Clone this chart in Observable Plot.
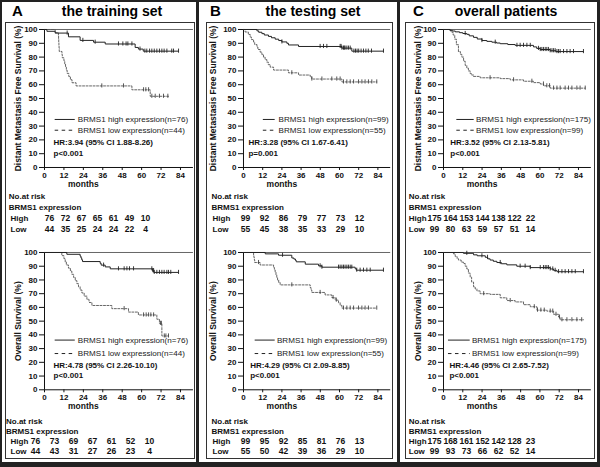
<!DOCTYPE html>
<html><head><meta charset="utf-8">
<script src="https://cdn.jsdelivr.net/npm/d3@7"></script>
<script src="https://cdn.jsdelivr.net/npm/@observablehq/plot@0.6"></script>
<style>
body{margin:0;background:#fff;}
#fig{position:relative;width:600px;height:467px;overflow:hidden;background:#fff;font-family:"Liberation Sans",Arial,Helvetica,sans-serif;}
.ttl{position:absolute;font-weight:bold;font-size:14px;line-height:14px;white-space:nowrap;color:#000;}
.box{position:absolute;border:1px solid #333;box-sizing:border-box;}
.bar{position:absolute;background:#222;}
</style></head><body><div id="fig"></div><script>
// ---------------- data ----------------
const riskMonths = [0, 12, 24, 36, 48, 60, 72];
const xTicks = [0, 12, 24, 36, 48, 60, 72, 84];
const yTicks = [0, 10, 20, 30, 40, 50, 60, 70, 80, 90, 100];
const panelLetters = ["A", "B", "C"];
const panelTitles = ["the training set", "the testing set", "overall patients"];
const yLabels = ["Distant Metastasis Free Survival (%)", "Overall Survival (%)"];
const nHigh = [76, 99, 175];
const nLow = [44, 55, 99];
const hrDmfs = ["HR:3.94 (95% CI 1.88-8.26)", "HR:3.28 (95% CI 1.67-6.41)", "HR:3.52 (95% CI 2.13-5.81)"];
const pDmfs = ["p<0.001", "p=0.001", "p<0.001"];
const hrOs = ["HR:4.78 (95% CI 2.26-10.10)", "HR:4.29 (95% CI 2.09-8.85)", "HR:4.46 (95% CI 2.65-7.52)"];
const pOs = ["p<0.001", "p<0.001", "p<0.001"];

const riskDmfsHigh = [[76, 72, 67, 65, 61, 49, 10], [99, 92, 86, 79, 77, 73, 12], [175, 164, 153, 144, 138, 122, 22]];
const riskDmfsLow = [[44, 35, 25, 24, 24, 22, 4], [55, 45, 38, 35, 33, 29, 10], [99, 80, 63, 59, 57, 51, 14]];
const riskOsHigh = [[76, 73, 69, 67, 61, 52, 10], [99, 95, 92, 85, 81, 76, 13], [175, 168, 161, 152, 142, 128, 23]];
const riskOsLow = [[44, 43, 31, 27, 26, 23, 4], [55, 50, 42, 39, 36, 29, 10], [99, 93, 73, 66, 62, 52, 14]];

// Kaplan-Meier steps [month, survival %] and censor times (months)
const trainDmfsHigh = [[0,100],[1.5,98.7],[6.6,97.4],[14.8,94.7],[22,92.1],[30.3,90.8],[37.5,89.5],[56,87.0],[58,85.8],[61,84.3],[82.8,84.3]];
const trainDmfsHighCens = [14,23.7,31.3,45.7,48.4,50.4,51.5,54,59,62,63.2,64.9,66.3,67.8,69.4,71,72.5,73.9,75.6,78.6,79.7,82.8];
const trainDmfsLow = [[0,100],[6.6,97.7],[8.6,95.5],[8.7,93.2],[8.8,90.9],[8.9,88.6],[9,86.4],[9.1,84.1],[10.8,81.8],[11,79.5],[12,77.3],[12.5,75],[13,72.7],[13.5,70.5],[14,68.2],[15,65.9],[16,63.6],[17,61.4],[19.5,59.1],[54,56.3],[65.3,51.6],[76.6,51.6]];
const trainDmfsLowCens = [35.4,48.8,61.2,62.6,64.3,66.3,68.4,71,73.5,76.2];
const trainOsHigh = [[0,100],[13.8,98.7],[22,97.4],[22.5,96.1],[23,94.7],[23.5,93.4],[34.4,92.1],[35,90.8],[37.5,89.5],[40.6,88.1],[66.8,86.8],[67.5,85.5],[82.8,85.5]];
const trainOsHighCens = [36.5,45.7,49.2,50.9,52.5,55,66.3,66.9,67.4,67.8,69.4,71,72.5,73.9,75.6,76.6,78,82.8];
const trainOsLow = [[0,100],[10.7,97.7],[12,95.5],[12.8,93.2],[13.5,90.9],[14.8,88.6],[16,86.4],[16.9,84.1],[18,81.8],[19,79.5],[20,77.3],[21,75],[22,72.7],[23.1,70.5],[24.5,68.2],[26.2,65.9],[27.5,63.6],[29.3,61.4],[41.6,59.1],[51.9,56.6],[58,54.5],[69.4,51.4],[71,48.4],[72.5,39.2],[76.6,39.2]];
const trainOsLowCens = [49.2,61.2,62.8,64.3,65.7,67.4,71.6,72.2,74,75,76.6];

const testDmfsHigh = [[0,100],[8.4,99],[9.5,98],[11.5,97],[13,96],[15.6,95],[17.5,94],[19.8,93],[22,92],[24,91],[27.1,90],[28.1,88.8],[34.4,87.7],[61.5,86.5],[67.7,84.3],[87.5,84.3]];
const testDmfsHighCens = [24,47.9,50,52.1,60.4,61,61.5,62.5,63,63.5,64.6,65.6,66.7,69,70,71,72,73.5,75,76.5,78,80,87.5];
const testDmfsLow = [[0,100],[1,98.2],[3,96.4],[4.2,94.5],[5,92.7],[6.3,90.9],[7,89.1],[8.4,87.3],[9,85.5],[10.4,83.6],[11.5,81.8],[12.5,80],[13.5,78.2],[14.6,76.4],[15.5,74.5],[16.7,72.7],[18.8,70.6],[28.1,68.6],[34.4,67],[41.7,65.8],[42.7,64.1],[61.5,62],[83.3,62]];
const testDmfsLowCens = [30.2,42.7,49,55.2,58.3,60.4,62.5,64.6,66.7,68.8,71.9,74,76,78.1,80.2,83.3];
const testOsHigh = [[0,100],[13.6,99],[21.9,98],[30.2,96],[31.5,95.2],[32.5,94.2],[33,93.2],[38.6,91.5],[46.9,90.3],[49,89.3],[69.8,88.2],[70.5,87.1],[87.5,87.1]];
const testOsHighCens = [24.4,47.9,49,59.4,60.4,61.5,62.5,63.5,64.6,65.6,66.7,67.7,70.8,72.9,75,77.1,79.2,87.5];
const testOsLow = [[0,100],[6.3,98.2],[6.5,96.4],[6.8,94.5],[7,92.7],[10.4,90.9],[18.8,89.1],[19.3,87.3],[19.8,85.5],[20.3,83.6],[20.8,81.8],[21.3,80],[22,78.2],[22.9,76.4],[41.7,74.5],[42.2,72.7],[42.7,70.9],[51,69.1],[55.2,67.2],[57.3,65.3],[59.4,63.4],[60.4,61.5],[61.5,59.5],[83.3,59.5]];
const testOsLowCens = [9.4,30.2,47.9,56,58,62.5,64.6,66.7,68.8,71.9,74,76,78.1,83.3];

const allDmfsHigh = [[0,100],[4.1,99.4],[5.5,98.9],[7.3,98.3],[10,97.7],[12,97.1],[14.5,96.5],[16,95.4],[18.7,94.3],[21,93.1],[23.9,92],[27,91.4],[30.1,90.8],[33,90.2],[35.3,89.7],[40,89.1],[44.6,88.5],[56,87.4],[58,86.3],[60.2,85.5],[66.4,84.6],[70,84],[87.1,84]];
const allDmfsHighCens = [13.5,23.9,32.2,45.7,47.7,49.8,51.9,54,59.1,60.2,61.2,62.2,63.3,64.3,65.3,66.4,67.5,68.5,69.5,70.6,71.6,72.6,74.7,76.8,78.8,80.9,87.1];
const allDmfsLow = [[0,100],[4.1,99],[5.2,98],[6,96],[7,93],[8,89],[9.3,84],[10.5,82],[11.4,80],[12.5,77],[13.5,74],[14.5,72],[15.5,70],[16.6,68],[17.5,67],[18.7,66],[22.8,65],[35.3,64.4],[41.5,63.5],[49.8,62.5],[56,61.5],[60.2,60.5],[62.3,59.2],[66.4,57.5],[88.2,57.5]];
const allDmfsLowCens = [29,43.6,55,62.2,64.3,66,68.5,70.6,72.6,75.7,77.8,79.9,83,85,88.2];
const allOsHigh = [[0,100],[12.4,99.4],[18.7,98.3],[21,97.6],[26,96.5],[27.5,95.4],[29,94.5],[31,93.6],[33.2,92.7],[36,91.8],[39.4,91],[45.6,90],[53.9,89],[66.4,88],[68.5,87],[70.6,86],[87.1,86]];
const allOsHighCens = [14.5,23.9,27.4,35.3,47.7,50.8,54,60.2,62.2,63.3,64.3,65.3,66.4,68,69.5,71.6,73.7,75.7,77.8,79.9,82,87.1];
const allOsLow = [[0,100],[6.2,99],[7.3,97],[8.5,95.5],[9.3,94.5],[11,93],[12.4,92],[13.5,90],[14.5,88],[15.5,85],[16.6,82],[17.5,78.5],[18.7,75],[19.7,73.5],[20.8,72],[22.8,70],[29,69.5],[35.3,67],[39.4,65],[44.6,64],[49.8,62],[54,60.5],[58.1,58],[64.3,57.3],[68.5,55],[71.6,53],[72.6,51],[87.1,51]];
const allOsLowCens = [25,41.5,56.5,58.5,60.6,62.7,66.4,68,70,72.2,73.7,76.8,79.9,83,86];

// ---------------- layout (pixels / positions) ----------------
const FONT = '"Liberation Sans", Arial, Helvetica, sans-serif';
const layout = [
  {x0: 44.3, ppm: 1.619, ylabDx: -26.3, boxL: 5, boxR: 195, letterX: 12, titleCX: 112,
   leg: [{lx1: 6.6, lx2: 19, tx: 20.6, hx: 5.6}, {lx1: 6.6, lx2: 19, tx: 20.6, hx: 5.6}],
   risk: [{lab: 8.3, grp: 10, x1: 48.3, x2: 146.3}, {lab: 5.5, grp: 10, x1: 33.8, x2: 150.3}]},
  {x0: 243.3, ppm: 1.6, ylabDx: -30.6, boxL: 206, boxR: 393, letterX: 210, titleCX: 313,
   leg: [{lx1: 12.4, lx2: 19.8, tx: 21.9, hx: 3.1}, {lx1: 7.3, lx2: 19.8, tx: 20.9, hx: 4.2}],
   risk: [{lab: 211, grp: 212, x1: 244.2, x2: 360}, {lab: 211, grp: 212, x1: 244, x2: 360}]},
  {x0: 443.3, ppm: 1.607, ylabDx: -25.6, boxL: 405, boxR: 595, letterX: 413, titleCX: 506,
   leg: [{lx1: 8.3, lx2: 19.1, tx: 20.3, hx: 4.2}, {lx1: 3.1, lx2: 16.6, tx: 17.7, hx: 3.7}],
   risk: [{lab: 408.3, grp: 408.3, x1: 433.7, x2: 530}, {lab: 408.3, grp: 408.3, x1: 433.3, x2: 530}]}
];
const chartTop = [29.3, 251.7];     // pixel of 100%
const chartSpan = [138, 137.3];     // pixels from 100% to 0%
const legY = [{hi: 34.8, lo: 27, hr: 17.8, p: 10.1}, {hi: 36.2, lo: 26.4, hr: 17.5, p: 10.2}];
const riskRowY = [[196, 229.7], [420, 452.7]];
const LEGFS = 8.1;

const fig = document.getElementById("fig");
function place(el, left, top) {
  el.style.position = "absolute";
  el.style.left = left + "px";
  el.style.top = top + "px";
  fig.appendChild(el);
}
function survAt(steps, t) {
  let s = steps[0][1];
  for (const [tt, ss] of steps) { if (tt <= t) s = ss; else break; }
  return s;
}
const rowsOf = steps => steps.map(([t, s]) => ({t, s}));
const censOf = (steps, times) => times.map(t => ({t, s: survAt(steps, t)}));

function chart(col, row, hiSteps, hiCens, loSteps, loCens, hr, p) {
  const L = layout[col];
  const mL = 40, mT = 5, mB = 25, mR = 2;
  const W = mL + 92 * L.ppm + mR;
  const H = mT + chartSpan[row] + mB;
  const g = L.leg[row], ly = legY[row];
  const legTexts = [
    {x: g.tx, y: ly.hi, text: `BRMS1 high expression(n=${nHigh[col]})`},
    {x: g.tx, y: ly.lo, text: `BRMS1 low expression(n=${nLow[col]})`}
  ];
  const stats = [{x: g.hx, y: ly.hr, text: hr}, {x: g.hx, y: ly.p, text: p}];
  const tick = 1.5;
  const svg = Plot.plot({
    width: W, height: H, marginLeft: mL, marginRight: mR, marginTop: mT, marginBottom: mB,
    style: {fontFamily: FONT, fontSize: "8px", fontWeight: "bold", color: "#111", background: "transparent", overflow: "visible"},
    x: {domain: [0, 92], ticks: xTicks, tickSize: 3, tickPadding: 2, label: null, tickFormat: d => String(d)},
    y: {domain: [0, 100], ticks: yTicks, tickSize: 5, tickPadding: 2, label: null, tickFormat: d => String(d)},
    marks: [
      Plot.ruleY([100], {stroke: "#666", strokeWidth: 1}),
      Plot.ruleY([0], {stroke: "#111", strokeWidth: 1}),
      Plot.ruleX([0], {y1: 0, y2: 100, stroke: "#111", strokeWidth: 1}),
      Plot.line(rowsOf(loSteps), {x: "t", y: "s", curve: "step-after", stroke: "#555", strokeWidth: 0.9, strokeDasharray: "2,1.5"}),
      Plot.ruleX(censOf(loSteps, loCens), {x: "t", y1: d => d.s - tick, y2: d => d.s + tick, stroke: "#444", strokeWidth: 0.9}),
      Plot.line(rowsOf(hiSteps), {x: "t", y: "s", curve: "step-after", stroke: "#222", strokeWidth: 1}),
      Plot.ruleX(censOf(hiSteps, hiCens), {x: "t", y1: d => d.s - tick, y2: d => d.s + tick, stroke: "#222", strokeWidth: 0.9}),
      Plot.ruleY([{x1: g.lx1, x2: g.lx2, y: ly.hi}], {x1: "x1", x2: "x2", y: "y", stroke: "#222", strokeWidth: 1}),
      Plot.ruleY([{x1: g.lx1, x2: g.lx2, y: ly.lo}], {x1: "x1", x2: "x2", y: "y", stroke: "#222", strokeWidth: 1, strokeDasharray: "3.5,3.5"}),
      Plot.text(legTexts, {x: "x", y: "y", text: "text", textAnchor: "start", fontWeight: "normal", fontSize: LEGFS, fill: "#222"}),
      Plot.text(stats, {x: "x", y: "y", text: "text", textAnchor: "start", fontWeight: "bold", fontSize: 8, fill: "#111"}),
      Plot.text([{x: 24, label: "months"}], {x: "x", text: "label", frameAnchor: "bottom", dy: 19.4, fontSize: 8.5, fontWeight: "bold", fill: "#111"}),
      Plot.text([yLabels[row]], {frameAnchor: "left", textAnchor: "middle", lineAnchor: "middle", rotate: -90, dx: L.ylabDx, fontSize: 8.5, fontWeight: "bold", fill: "#111"})
    ]
  });
  place(svg, L.x0 - mL, chartTop[row] - mT);
}

function riskTable(col, row, hi, lo) {
  const L = layout[col];
  const R = L.risk[row];
  const left = L.boxL + 1, width = L.boxR - L.boxL - 2;
  const top = riskRowY[row][0] - 7, height = 46;
  const rows = ["No.at risk", "BRMS1 expression", "High", "Low"];
  const nums = riskMonths.flatMap((m, i) => [{m, row: "High", n: hi[i]}, {m, row: "Low", n: lo[i]}]);
  const svg = Plot.plot({
    width, height, margin: 0,
    style: {fontFamily: FONT, fontSize: "8px", fontWeight: "bold", color: "#111", background: "transparent", overflow: "visible"},
    x: {type: "point", domain: riskMonths, range: [R.x1 - left, R.x2 - left], padding: 0, axis: null},
    y: {type: "point", domain: rows, range: [riskRowY[row][0] - top, riskRowY[row][1] - top], padding: 0, axis: null},
    marks: [
      Plot.text(rows.slice(0, 2), {y: d => d, frameAnchor: "left", dx: R.lab - left, textAnchor: "start", fontSize: 8, fontWeight: "bold", fill: "#111"}),
      Plot.text(rows.slice(2), {y: d => d, frameAnchor: "left", dx: R.grp - left, textAnchor: "start", fontSize: 8, fontWeight: "bold", fill: "#111"}),
      Plot.text(nums, {x: "m", y: "row", text: "n", fontSize: 8.5, fontWeight: "bold", fill: "#111"})
    ]
  });
  place(svg, left, top);
}

// frame and panel boxes
function div(cls, l, t, w, h) {
  const d = document.createElement("div");
  d.className = cls;
  d.style.left = l + "px"; d.style.top = t + "px"; d.style.width = w + "px"; d.style.height = h + "px";
  fig.appendChild(d);
  return d;
}
div("bar", 0, 0, 600, 2);
div("bar", 0, 0, 2, 467);
div("bar", 597, 0, 3, 467);
div("bar", 0, 462, 600, 5);
div("bar", 196, 0, 3, 467);
div("bar", 397, 0, 3, 467);
layout.forEach((L, c) => {
  div("box", L.boxL, 22, L.boxR - L.boxL, 437);
  const a = document.createElement("div");
  a.className = "ttl"; a.textContent = panelLetters[c];
  a.style.left = L.letterX + "px"; a.style.top = "4px"; a.style.fontSize = "15px";
  fig.appendChild(a);
  const t = document.createElement("div");
  t.className = "ttl"; t.textContent = panelTitles[c];
  t.style.left = (L.titleCX - 100) + "px"; t.style.width = "200px"; t.style.textAlign = "center"; t.style.top = "4px";
  fig.appendChild(t);
});

chart(0, 0, trainDmfsHigh, trainDmfsHighCens, trainDmfsLow, trainDmfsLowCens, hrDmfs[0], pDmfs[0]);
chart(1, 0, testDmfsHigh, testDmfsHighCens, testDmfsLow, testDmfsLowCens, hrDmfs[1], pDmfs[1]);
chart(2, 0, allDmfsHigh, allDmfsHighCens, allDmfsLow, allDmfsLowCens, hrDmfs[2], pDmfs[2]);
chart(0, 1, trainOsHigh, trainOsHighCens, trainOsLow, trainOsLowCens, hrOs[0], pOs[0]);
chart(1, 1, testOsHigh, testOsHighCens, testOsLow, testOsLowCens, hrOs[1], pOs[1]);
chart(2, 1, allOsHigh, allOsHighCens, allOsLow, allOsLowCens, hrOs[2], pOs[2]);
for (let c = 0; c < 3; c++) {
  riskTable(c, 0, riskDmfsHigh[c], riskDmfsLow[c]);
  riskTable(c, 1, riskOsHigh[c], riskOsLow[c]);
}
</script></body></html>
